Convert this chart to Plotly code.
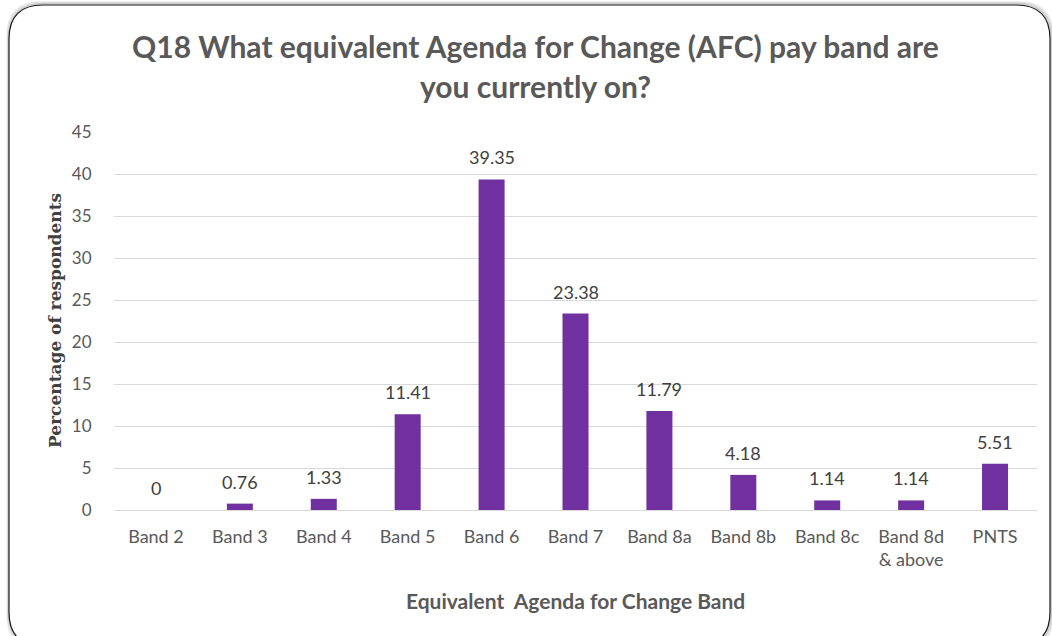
import plotly.graph_objects as go

# Survey results: share of respondents on each AFC pay band
bands = ["Band 2", "Band 3", "Band 4", "Band 5", "Band 6", "Band 7",
         "Band 8a", "Band 8b", "Band 8c", "Band 8d<br>& above", "PNTS"]
percentages = [0, 0.76, 1.33, 11.41, 39.35, 23.38, 11.79, 4.18, 1.14, 1.14, 5.51]
y_ticks = [0, 5, 10, 15, 20, 25, 30, 35, 40, 45]

W, H = 1052, 636
ML, MR, MT, MB = 114, 15, 132, 126
PW, PH = W - ML - MR, H - MT - MB


def px(x):
    return (x - ML) / PW


def py(y):
    return (H - MB - y) / PH


def rounded_rect(x0, y0, x1, y1, r):
    return (f"M {px(x0 + r)} {py(y0)} L {px(x1 - r)} {py(y0)} "
            f"Q {px(x1)} {py(y0)} {px(x1)} {py(y0 + r)} "
            f"L {px(x1)} {py(y1 - r)} Q {px(x1)} {py(y1)} {px(x1 - r)} {py(y1)} "
            f"L {px(x0 + r)} {py(y1)} Q {px(x0)} {py(y1)} {px(x0)} {py(y1 - r)} "
            f"L {px(x0)} {py(y0 + r)} Q {px(x0)} {py(y0)} {px(x0 + r)} {py(y0)} Z")


fig = go.Figure(go.Bar(
    x=bands,
    y=percentages,
    marker=dict(color="#7030A0", line=dict(width=0)),
    cliponaxis=False,
))

shapes = []
# soft shadow around the chart frame
for i, op in enumerate([0.08, 0.12, 0.18]):
    d = 3 - i
    shapes.append(dict(type="path", xref="paper", yref="paper",
                       path=rounded_rect(9 - d + 1, 5 - d, 1050 + d, 646 + d, 34),
                       line=dict(color=f"rgba(0,0,0,{op})", width=1.5),
                       layer="below"))
shapes.append(dict(type="path", xref="paper", yref="paper",
                   path=rounded_rect(9, 5, 1050, 646, 34),
                   line=dict(color="#1a1a1a", width=1.2),
                   fillcolor="white", layer="below"))

title_font = dict(family="Lato, sans-serif", size=30, color="#595959", weight="bold")
annotations = [
    dict(text="Q18 What equivalent Agenda for Change (AFC) pay band are",
         xref="paper", yref="paper", x=px(535), y=py(46),
         xanchor="center", yanchor="middle", showarrow=False, font=title_font),
    dict(text="you currently on?",
         xref="paper", yref="paper", x=px(535), y=py(86),
         xanchor="center", yanchor="middle", showarrow=False, font=title_font),
    dict(text="Equivalent  Agenda for Change Band",
         xref="paper", yref="paper", x=px(575), y=py(600),
         xanchor="center", yanchor="middle", showarrow=False,
         font=dict(family="Lato, sans-serif", size=21, color="#595959", weight="bold")),
    dict(text="Percentage of respondents",
         xref="paper", yref="paper", x=px(55), y=py(321), textangle=-90,
         xanchor="center", yanchor="middle", showarrow=False,
         font=dict(family="DejaVu Serif, serif", size=17, color="#404040", weight="bold")),
]

# value labels sitting above each bar
for band, value in zip(bands, percentages):
    annotations.append(dict(
        text=f"{value:g}", x=band, y=value, xref="x", yref="y",
        xanchor="center", yanchor="bottom", yshift=9, showarrow=False,
        font=dict(family="Lato, sans-serif", size=18, color="#404040"),
    ))

fig.update_layout(
    width=W, height=H,
    margin=dict(l=ML, r=MR, t=MT, b=MB),
    paper_bgcolor="white",
    plot_bgcolor="rgba(0,0,0,0)",
    bargap=0.69,
    showlegend=False,
    shapes=shapes,
    annotations=annotations,
    xaxis=dict(
        tickfont=dict(family="Lato, sans-serif", size=18, color="#595959"),
        showgrid=False, showline=False,
        ticks="outside", ticklen=10, tickcolor="rgba(0,0,0,0)",
    ),
    yaxis=dict(
        range=[0, 45], tickvals=y_ticks,
        tickfont=dict(family="Lato, sans-serif", size=17, color="#595959"),
        showgrid=True, gridcolor="#d9d9d9", gridwidth=1,
        zeroline=True, zerolinecolor="#d9d9d9", zerolinewidth=1,
        ticks="outside", ticklen=18, tickcolor="rgba(0,0,0,0)", showline=False,
    ),
)

fig.write_html("out.html")
